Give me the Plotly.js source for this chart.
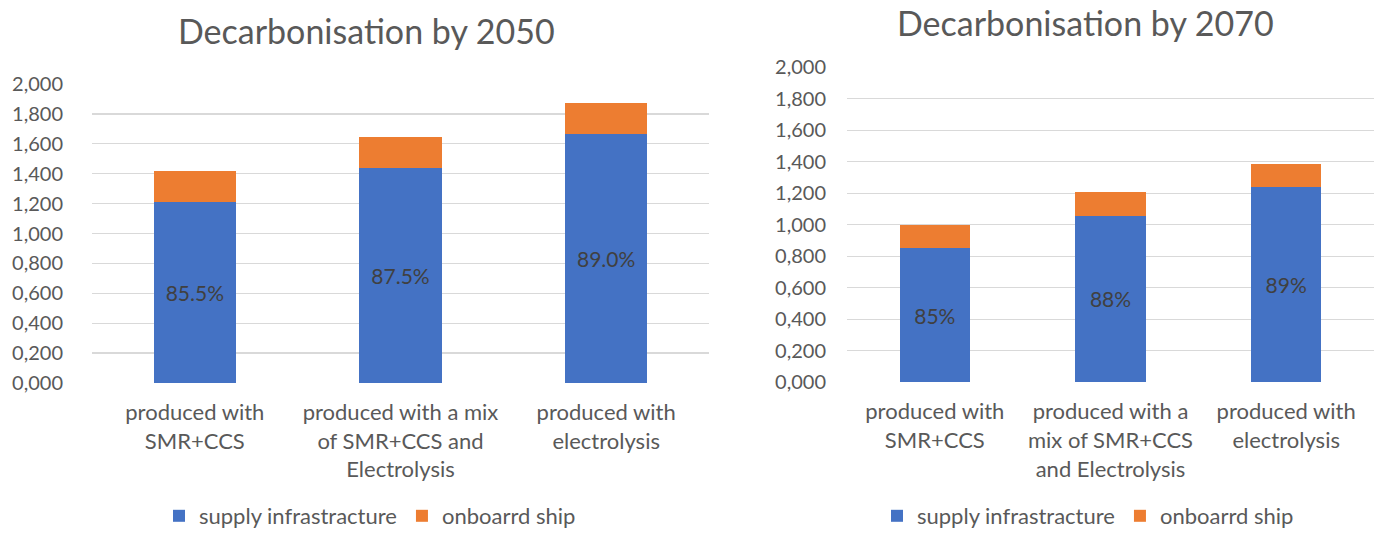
<!DOCTYPE html>
<html>
<head>
<meta charset="utf-8">
<script src="https://cdn.plot.ly/plotly-3.0.1.min.js"></script>
<style>html,body{margin:0;padding:0;background:#fff;}#chart{width:1374px;height:537px;}</style>
</head>
<body>
<div id="chart"></div>
<script>
// Categories
const categories2050 = ["produced with<br>SMR+CCS", "produced with a mix<br>of SMR+CCS and<br>Electrolysis", "produced with<br>electrolysis"];
const categories2070 = ["produced with<br>SMR+CCS", "produced with a<br>mix of SMR+CCS<br>and Electrolysis", "produced with<br>electrolysis"];

// Series values
const supply2050 = [1.213, 1.438, 1.666];
const onboard2050 = [0.203, 0.210, 0.205];
const supply2070 = [0.851, 1.058, 1.242];
const onboard2070 = [0.148, 0.148, 0.146];

// Data labels
const labels2050 = ["85.5%", "87.5%", "89.0%"];
const labels2070 = ["85%", "88%", "89%"];

// Titles and series names
const title2050 = "Decarbonisation by 2050";
const title2070 = "Decarbonisation by 2070";
const seriesNames = ["supply infrastracture", "onboarrd ship"];

const FONT = "Lato, 'Open Sans', sans-serif";
const BLUE = "#4472C4", ORANGE = "#ED7D31", GRAY = "#595959", GRID = "#D9D9D9";

const labelFont = {family: FONT, size: 21, color: "#404040"};

const traces = [
  {type: "bar", x: categories2050, y: supply2050, name: seriesNames[0], xaxis: "x", yaxis: "y",
   marker: {color: BLUE}, text: labels2050, textposition: "inside", insidetextanchor: "middle",
   textfont: labelFont, legend: "legend", hoverinfo: "skip"},
  {type: "bar", x: categories2050, y: onboard2050, name: seriesNames[1], xaxis: "x", yaxis: "y",
   marker: {color: ORANGE}, legend: "legend", hoverinfo: "skip"},
  {type: "bar", x: categories2070, y: supply2070, name: seriesNames[0], xaxis: "x2", yaxis: "y2",
   marker: {color: BLUE}, text: labels2070, textposition: "inside", insidetextanchor: "middle",
   textfont: labelFont, legend: "legend2", hoverinfo: "skip"},
  {type: "bar", x: categories2070, y: onboard2070, name: seriesNames[1], xaxis: "x2", yaxis: "y2",
   marker: {color: ORANGE}, legend: "legend2", hoverinfo: "skip"}
];

const yax = (domain, anchor, standoff) => ({
  domain: domain, anchor: anchor, range: [0, 2], tickvals: [0,0.2,0.4,0.6,0.8,1.0,1.2,1.4,1.6,1.8,2.0],
  tickformat: ".3f", showgrid: true, gridcolor: GRID, gridwidth: 1.3, zeroline: false,
  showline: false, ticks: "", ticklabelstandoff: standoff,
  tickfont: {family: FONT, size: 20, color: GRAY}, fixedrange: true
});
const xax = (domain, anchor) => ({
  domain: domain, anchor: anchor, type: "category", showgrid: false, zeroline: false,
  showline: false, ticks: "", tickangle: 0, ticklabelstandoff: 14,
  tickfont: {family: FONT, size: 22, color: GRAY}, fixedrange: true
});
const legendCfg = (x) => ({
  orientation: "h", x: x, xanchor: "center", y: 0, yanchor: "bottom",
  font: {family: FONT, size: 22, color: GRAY}, traceorder: "normal", bgcolor: "rgba(0,0,0,0)"
});

const layout = {
  width: 1374, height: 537,
  margin: {l: 0, r: 0, t: 0, b: 0},
  paper_bgcolor: "#fff", plot_bgcolor: "#fff",
  separators: ",.",
  barmode: "stack", bargap: 0.6,
  showlegend: true,
  xaxis: xax([92/1374, 709/1374], "y"),
  yaxis: yax([1 - 383/537, 1 - 84/537], "x", 28),
  xaxis2: xax([847/1374, 1], "y2"),
  yaxis2: yax([1 - 382.3/537, 1 - 67.3/537], "x2", 20),
  legend: legendCfg(370/1374),
  legend2: legendCfg(1088/1374),
  annotations: [
    {text: title2050, xref: "paper", yref: "paper", x: 366/1374, y: 1 - 30/537, xanchor: "center", yanchor: "middle",
     showarrow: false, font: {family: FONT, size: 34, color: GRAY}},
    {text: title2070, xref: "paper", yref: "paper", x: 1085/1374, y: 1, xanchor: "center", yanchor: "top",
     showarrow: false, font: {family: FONT, size: 34, color: GRAY}}
  ]
};

Plotly.newPlot("chart", traces, layout, {staticPlot: true, displayModeBar: false});
</script>
</body>
</html>
